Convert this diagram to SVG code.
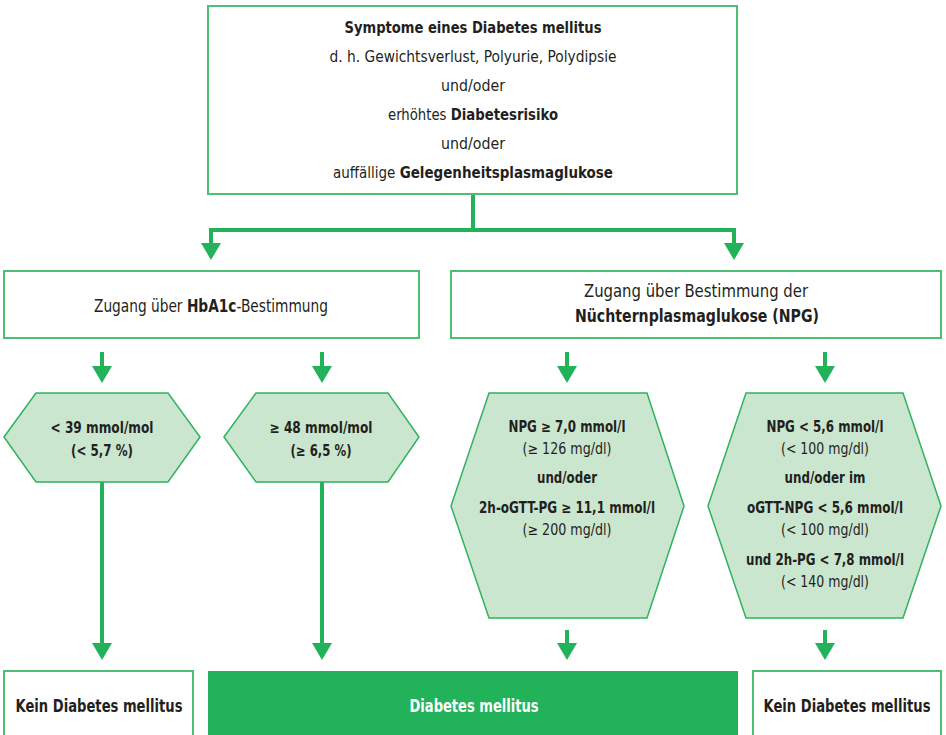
<svg xmlns="http://www.w3.org/2000/svg" width="946" height="735" viewBox="0 0 946 735">
<style>
text{font-family:"DejaVu Sans Condensed","DejaVu Sans",sans-serif;font-stretch:condensed;fill:#231f20;text-anchor:middle}
.b{font-weight:bold}
.t{font-size:16.5px}
.z{font-size:17.5px}
.h{font-size:15px}
.k{font-size:17.5px;font-weight:bold}
.box{fill:#fff;stroke:#4fbe75;stroke-width:2}
.hex{fill:#cbe6cf;stroke:#2fb35e;stroke-width:1.5}
.con{fill:none;stroke:#22b25a;stroke-width:4}
</style>
<defs>
<marker id="ah" markerUnits="userSpaceOnUse" markerWidth="18" markerHeight="20" refX="1" refY="10" orient="auto" viewBox="0 0 18 20">
<path d="M0,0 L17,10 L0,20 Z" fill="#22b25a"/>
</marker>
</defs>

<g id="connectors">
<path class="con" d="M473,194 V230 H211 V244" marker-end="url(#ah)"/>
<path class="con" d="M473,230 H734 V244" marker-end="url(#ah)"/>
<path class="con" d="M102,352 V367" marker-end="url(#ah)"/>
<path class="con" d="M322,352 V367" marker-end="url(#ah)"/>
<path class="con" d="M567,352 V367" marker-end="url(#ah)"/>
<path class="con" d="M825,352 V367" marker-end="url(#ah)"/>
<path class="con" d="M102,482 V644" marker-end="url(#ah)"/>
<path class="con" d="M322,482 V644" marker-end="url(#ah)"/>
<path class="con" d="M567,630 V644" marker-end="url(#ah)"/>
<path class="con" d="M825,630 V644" marker-end="url(#ah)"/>
</g>

<g id="symptome">
<rect class="box" x="208" y="6" width="529" height="188"/>
<text class="t b" x="473" y="33" textLength="257" lengthAdjust="spacingAndGlyphs">Symptome eines Diabetes mellitus</text>
<text class="t" x="473" y="62" textLength="287" lengthAdjust="spacingAndGlyphs">d. h. Gewichtsverlust, Polyurie, Polydipsie</text>
<text class="t" x="473" y="91" textLength="64" lengthAdjust="spacingAndGlyphs">und/oder</text>
<text class="t" x="473" y="120" textLength="170" lengthAdjust="spacingAndGlyphs">erhöhtes <tspan class="b">Diabetesrisiko</tspan></text>
<text class="t" x="473" y="149" textLength="64" lengthAdjust="spacingAndGlyphs">und/oder</text>
<text class="t" x="473" y="178" textLength="280" lengthAdjust="spacingAndGlyphs">auffällige <tspan class="b">Gelegenheitsplasmaglukose</tspan></text>
</g>

<g id="hba1c">
<rect class="box" x="4" y="271" width="415" height="67"/>
<text class="z" x="211" y="312" textLength="234" lengthAdjust="spacingAndGlyphs">Zugang über <tspan class="b">HbA1c</tspan>-Bestimmung</text>
</g>

<g id="npg">
<rect class="box" x="451" y="271" width="490" height="67"/>
<text class="z" x="696" y="297" textLength="224" lengthAdjust="spacingAndGlyphs">Zugang über Bestimmung der</text>
<text class="z b" x="697" y="322" textLength="244" lengthAdjust="spacingAndGlyphs">Nüchternplasmaglukose (NPG)</text>
</g>

<g id="hex-lt39">
<polygon class="hex" points="4,437 36,393 168,393 200,437 168,482 36,482"/>
<text class="h b" x="102" y="433" textLength="103" lengthAdjust="spacingAndGlyphs">&lt; 39 mmol/mol</text>
<text class="h b" x="102" y="456" textLength="62" lengthAdjust="spacingAndGlyphs">(&lt; 5,7 %)</text>
</g>

<g id="hex-ge48">
<polygon class="hex" points="224,437 256,393 388,393 419,437 388,482 256,482"/>
<text class="h b" x="321" y="433" textLength="103" lengthAdjust="spacingAndGlyphs">≥ 48 mmol/mol</text>
<text class="h b" x="321" y="456" textLength="61" lengthAdjust="spacingAndGlyphs">(≥ 6,5 %)</text>
</g>

<g id="hex-npg-high">
<polygon class="hex" points="451,506 489,393 647,393 684,506 647,618 489,618"/>
<text class="h b" x="567" y="432" textLength="117" lengthAdjust="spacingAndGlyphs">NPG ≥ 7,0 mmol/l</text>
<text class="h" x="567" y="454" textLength="89" lengthAdjust="spacingAndGlyphs">(≥ 126 mg/dl)</text>
<text class="h b" x="567" y="483" textLength="60" lengthAdjust="spacingAndGlyphs">und/oder</text>
<text class="h b" x="567" y="513" textLength="176" lengthAdjust="spacingAndGlyphs">2h-oGTT-PG ≥ 11,1 mmol/l</text>
<text class="h" x="567" y="535" textLength="89" lengthAdjust="spacingAndGlyphs">(≥ 200 mg/dl)</text>
</g>

<g id="hex-npg-low">
<polygon class="hex" points="708,506 746,393 903,393 941,506 903,618 746,618"/>
<text class="h b" x="825" y="432" textLength="117" lengthAdjust="spacingAndGlyphs">NPG &lt; 5,6 mmol/l</text>
<text class="h" x="825" y="454" textLength="88" lengthAdjust="spacingAndGlyphs">(&lt; 100 mg/dl)</text>
<text class="h b" x="825" y="483" textLength="81" lengthAdjust="spacingAndGlyphs">und/oder im</text>
<text class="h b" x="825" y="513" textLength="156" lengthAdjust="spacingAndGlyphs">oGTT-NPG &lt; 5,6 mmol/l</text>
<text class="h" x="825" y="535" textLength="88" lengthAdjust="spacingAndGlyphs">(&lt; 100 mg/dl)</text>
<text class="h b" x="825" y="565" textLength="158" lengthAdjust="spacingAndGlyphs">und 2h-PG &lt; 7,8 mmol/l</text>
<text class="h" x="825" y="587" textLength="88" lengthAdjust="spacingAndGlyphs">(&lt; 140 mg/dl)</text>
</g>

<g id="kein-links">
<rect class="box" x="4" y="671" width="189" height="80"/>
<text class="k" x="99" y="712" textLength="167" lengthAdjust="spacingAndGlyphs">Kein Diabetes mellitus</text>
</g>

<g id="diabetes">
<rect x="208" y="671" width="530" height="80" fill="#22b25a"/>
<text class="k" x="474" y="712" textLength="129" lengthAdjust="spacingAndGlyphs" style="fill:#fff">Diabetes mellitus</text>
</g>

<g id="kein-rechts">
<rect class="box" x="753" y="671" width="188" height="80"/>
<text class="k" x="847" y="712" textLength="167" lengthAdjust="spacingAndGlyphs">Kein Diabetes mellitus</text>
</g>
</svg>
